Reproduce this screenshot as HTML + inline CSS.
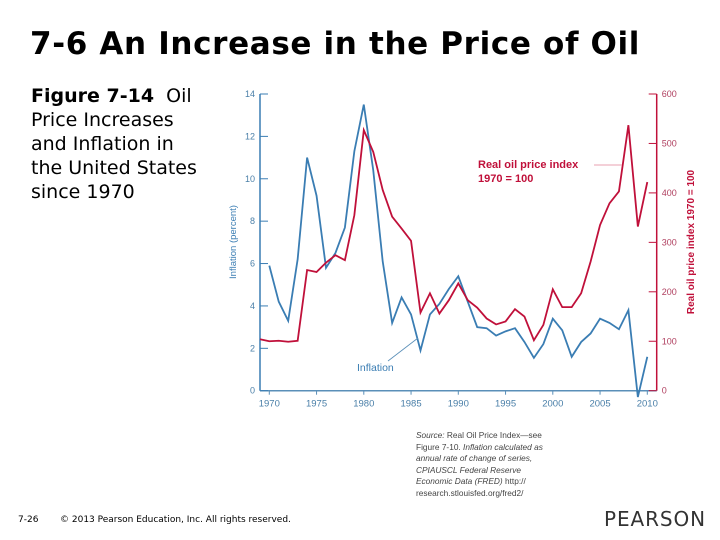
<!DOCTYPE html>
<html><head><meta charset="utf-8"><style>
body{margin:0;width:720px;height:540px;background:#fff;position:relative;overflow:hidden;font-family:"DejaVu Sans","Liberation Sans",sans-serif}
#title{position:absolute;left:30px;top:26px;font-size:31px;font-weight:bold;color:#000;white-space:nowrap;letter-spacing:0.65px}
#caption{position:absolute;left:31px;top:84px;font-size:19px;line-height:24px;color:#000;width:180px}
#foot1{position:absolute;left:18px;top:515px;font-size:9px;color:#000}
#foot2{position:absolute;left:60px;top:515px;font-size:9px;color:#000}
#pearson{position:absolute;left:604px;top:507px;font-size:20px;color:#333;letter-spacing:0.9px;font-family:"DejaVu Sans",sans-serif}
#source{position:absolute;left:416px;top:430px;font-size:8.3px;line-height:11.5px;color:#444;font-family:"Liberation Sans",sans-serif}
</style></head><body>
<div id="title">7-6 An Increase in the Price of Oil</div>
<div id="caption"><b>Figure 7-14</b>&nbsp; Oil Price Increases and Inflation in the United States since 1970</div>
<svg id="chart" width="720" height="540" style="position:absolute;left:0;top:0" font-family="Liberation Sans, sans-serif"></svg>
<div id="source"><i>Source:</i> Real Oil Price Index—see<br>Figure 7-10. <i>Inflation calculated as<br>annual rate of change of series,<br>CPIAUSCL Federal Reserve<br>Economic Data (FRED)</i> http://<br>research.stlouisfed.org/fred2/</div>
<div id="foot1">7-26</div>
<div id="foot2">© 2013 Pearson Education, Inc. All rights reserved.</div>
<div id="pearson">PEARSON</div>
<script>
const years=[1970,1971,1972,1973,1974,1975,1976,1977,1978,1979,1980,1981,1982,1983,1984,1985,1986,1987,1988,1989,1990,1991,1992,1993,1994,1995,1996,1997,1998,1999,2000,2001,2002,2003,2004,2005,2006,2007,2008,2009,2010];
const inflation=[5.9,4.2,3.3,6.2,11.0,9.2,5.8,6.5,7.7,11.3,13.5,10.4,6.1,3.2,4.4,3.6,1.9,3.6,4.1,4.8,5.4,4.2,3.0,2.95,2.6,2.8,2.95,2.3,1.55,2.2,3.4,2.85,1.6,2.3,2.7,3.4,3.2,2.9,3.8,-0.3,1.6];
const oilYears=[1969,1970,1971,1972,1973,1974,1975,1976,1977,1978,1979,1980,1981,1982,1983,1984,1985,1986,1987,1988,1989,1990,1991,1992,1993,1994,1995,1996,1997,1998,1999,2000,2001,2002,2003,2004,2005,2006,2007,2008,2009,2010];
const oilIndex=[104,100,101,99,101,244,240,259,274,264,355,527,483,406,352,328,303,158,197,156,183,217,183,168,146,134,140,165,150,102,133,205,169,169,197,261,335,379,403,537,332,422];
const leftTicks=[0,2,4,6,8,10,12,14];
const rightTicks=[0,100,200,300,400,500,600];
const xTicks=[1970,1975,1980,1985,1990,1995,2000,2005,2010];
const svg=document.getElementById('chart');const NS='http://www.w3.org/2000/svg';
const X0=260,X1=656.7,Y0=390.7,Y1=94;
const x=y=>269.3+(y-1970)*(647.3-269.3)/40;
const xc=y=>Math.max(X0,x(y));
const yL=v=>Y0-(v/14)*(Y0-Y1);
const yR=v=>Y0-(v/600)*(Y0-Y1);
const blue='#3a7db3',red='#c0103a';
function el(t,a,name,txt){const e=document.createElementNS(NS,t);for(const k in a)e.setAttribute(k,a[k]);


if(txt!==undefined)e.textContent=txt;svg.appendChild(e);return e;}
el('line',{x1:X0,y1:Y1,x2:X0,y2:Y0,stroke:blue,'stroke-width':1.5},'left-axis');
el('line',{x1:X1,y1:Y1,x2:X1,y2:Y0,stroke:red,'stroke-width':1.5},'right-axis');
el('line',{x1:X0,y1:Y0,x2:X1,y2:Y0,stroke:'#5a8fb8','stroke-width':1.5},'x-axis');
leftTicks.forEach(v=>{el('line',{x1:X0,y1:yL(v),x2:X0+8,y2:yL(v),stroke:blue,'stroke-width':1},'left-tick');
el('text',{x:X0-5,y:yL(v)+3,'font-size':9,fill:'#4a7fa8','text-anchor':'end'},'left-tick-label',v);});
rightTicks.forEach(v=>{el('line',{x1:X1-8,y1:yR(v),x2:X1,y2:yR(v),stroke:red,'stroke-width':1},'right-tick');
el('text',{x:X1+5,y:yR(v)+3,'font-size':9,fill:'#b04060'},'right-tick-label',v);});
xTicks.forEach(v=>{el('line',{x1:x(v),y1:Y0,x2:x(v),y2:Y0+4,stroke:'#5a8fb8'},'x-tick');
el('text',{x:x(v),y:Y0+16,'font-size':9.5,fill:'#4a7fa8','text-anchor':'middle'},'x-tick-label',v);});
el('text',{transform:'translate(236,242) rotate(-90)','font-size':9.5,fill:blue,'text-anchor':'middle'},'left-axis-title','Inflation (percent)');
el('text',{transform:'translate(694,242) rotate(-90)','font-size':10,fill:red,'font-weight':'bold','text-anchor':'middle'},'right-axis-title','Real oil price index  1970 = 100');
el('polyline',{points:years.map((y,i)=>x(y)+','+yL(inflation[i])).join(' '),fill:'none',stroke:blue,'stroke-width':1.8},'inflation-line');
el('polyline',{points:oilYears.map((y,i)=>xc(y)+','+yR(oilIndex[i])).join(' '),fill:'none',stroke:red,'stroke-width':1.8},'oil-price-line');
el('text',{x:478,y:168,'font-size':11,'font-weight':'bold',fill:red},'oil-label','Real oil price index');
el('text',{x:478,y:182,'font-size':11,'font-weight':'bold',fill:red},'oil-label-base','1970 = 100');
el('line',{x1:594,y1:165,x2:622,y2:165,stroke:'#e8a0b0','stroke-width':1},'oil-label-pointer');
el('text',{x:357,y:371,'font-size':10.5,fill:blue},'inflation-label','Inflation');
el('line',{x1:388,y1:361,x2:418,y2:338,stroke:'#5a8fb8','stroke-width':0.8},'inflation-label-pointer');
</script>
</body></html>
